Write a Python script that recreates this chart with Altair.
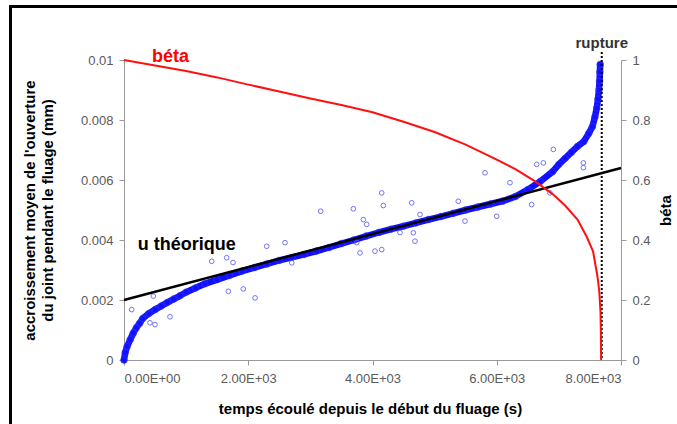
import altair as alt
import pandas as pd

# ---- data ----
# dense band of measurements (centre of the band)
band_t = [0, 20, 50, 100, 150, 200, 250, 300, 400, 500, 600, 700, 800, 900, 1000,
          1150, 1300, 1500, 1700, 1900, 2100, 2300, 2500, 2700, 2900, 3100, 3300,
          3500, 3700, 3900, 4100, 4300, 4500, 4700, 4900, 5100, 5300, 5500, 5700,
          5900, 6100, 6300, 6500, 6700, 6900, 7000, 7100, 7200, 7300, 7400, 7480,
          7540, 7580, 7610, 7630, 7645, 7655, 7660, 7665]
band_u = [0.0, 0.00025, 0.00045, 0.00068, 0.0009, 0.00108, 0.00122, 0.00138, 0.00155,
          0.00168, 0.0018, 0.00192, 0.00203, 0.00214, 0.00226, 0.0024, 0.00254,
          0.00268, 0.00282, 0.00296, 0.00308, 0.0032, 0.00332, 0.00342, 0.00352,
          0.00363, 0.00375, 0.00388, 0.004, 0.00413, 0.00425, 0.00436, 0.00446,
          0.00457, 0.00468, 0.00478, 0.00489, 0.005, 0.0051, 0.0052, 0.0053, 0.00545,
          0.00568, 0.00595, 0.00628, 0.00652, 0.00672, 0.00692, 0.00712, 0.00728,
          0.00755, 0.00778, 0.0081, 0.0084, 0.0087, 0.009, 0.0093, 0.0096, 0.00985]

# scattered measurements away from the band
out_t = [124, 418, 499, 472, 740, 1412, 1653, 1755, 1679, 1920, 2109, 2297, 2592, 2700,
         3166, 3691, 3852, 3907, 3799, 4040, 4148, 3746, 4148, 4174, 4631, 4684, 4657,
         4765, 4443, 5381, 5489, 5999, 6562, 5811, 6213, 6643, 6750, 6911, 7394, 7394,
         6857]
out_u = [0.00168, 0.00124, 0.00118, 0.00213, 0.00144, 0.00329, 0.00341, 0.00325,
         0.00229, 0.00237, 0.00207, 0.00379, 0.00391, 0.00324, 0.00496, 0.00504,
         0.00468, 0.00452, 0.00357, 0.00363, 0.00368, 0.00391, 0.00557, 0.00515,
         0.00524, 0.00396, 0.00424, 0.00485, 0.00425, 0.00529, 0.00463, 0.00479,
         0.00518, 0.00624, 0.00591, 0.00652, 0.00657, 0.00702, 0.00657, 0.00641,
         0.00557]

# theoretical opening
theo_t = [0, 8000]
theo_u = [0.002, 0.0064]

# beta (right axis)
beta_t = [0, 500, 1000, 1500, 2000, 2500, 3000, 3500, 4000, 4500, 5000, 5500, 6000,
          6300, 6600, 6900, 7100, 7300, 7450, 7550, 7620, 7650, 7670, 7676, 7680]
beta_v = [1.0, 0.982, 0.963, 0.942, 0.918, 0.895, 0.872, 0.850, 0.826, 0.794, 0.760,
          0.718, 0.668, 0.636, 0.598, 0.553, 0.515, 0.468, 0.41, 0.362, 0.28, 0.23,
          0.16, 0.09, 0.0]

rupture_t = [7690]

x_ticks = [0, 2000, 4000, 6000, 8000]
y_ticks = [0, 0.002, 0.004, 0.006, 0.008, 0.01]
b_ticks = [0, 0.2, 0.4, 0.6, 0.8, 1]

ann_text = ["béta", "u théorique"]
ann_t = [750, 1010]
ann_u = [0.0101, 0.00382]
ann_col = ["#ff0000", "#000000"]

# ---- chart ----
W, H = 497, 300
xs = alt.Scale(domain=[0, 8000], nice=False)
ys = alt.Scale(domain=[0, 0.01], nice=False)
bs = alt.Scale(domain=[0, 1], nice=False)

band_df = pd.DataFrame({"t": band_t, "u": band_u, "i": range(len(band_t))})
out_df = pd.DataFrame({"t": out_t, "u": out_u})
theo_df = pd.DataFrame({"t": theo_t, "u": theo_u})
beta_df = pd.DataFrame({"t": beta_t, "u": beta_v, "i": range(len(beta_t))})
rup_df = pd.DataFrame({"t": rupture_t, "label": ["rupture"]})
ann_df = pd.DataFrame({"t": ann_t, "u": ann_u, "txt": ann_text, "c": ann_col})
one_df = pd.DataFrame({"k": [0]})

x_axis = alt.Axis(values=x_ticks, title="temps écoulé depuis le début du fluage (s)",
                  labelExpr="datum.value == 0 ? '0.00E+00' : format(datum.value/1000, '.2f') + 'E+03'",
                  labelPadding=7, titleX=246, titleY=48, titleBaseline="middle")
y_axis = alt.Axis(values=y_ticks, format="~f",
                  title=["accroissement moyen de l'ouverture", "du joint pendant le fluage (mm)"],
                  titleAngle=-90, titleX=-95, titleY=150, titleBaseline="middle",
                  titleAlign="center", titleLineHeight=18, labelPadding=6)
b_axis = alt.Axis(values=b_ticks, format="~f", orient="right", title="béta",
                  titleAngle=-90, titleX=44, titleY=150, titleBaseline="middle",
                  titleAlign="center", labelPadding=6)

X = alt.X("t:Q", scale=xs, axis=x_axis)
YL = alt.Y("u:Q", scale=ys, axis=y_axis)
YR = alt.Y("u:Q", scale=bs, axis=b_axis)

band_line = alt.Chart(band_df).mark_line(color="#1010ff", strokeWidth=6.5, strokeCap="round",
                                         strokeJoin="round").encode(x=X, y=YL, order="i:O")
band_pts = alt.Chart(band_df).mark_point(shape="circle", filled=False, size=40,
                                         strokeWidth=1.2, color="#2a2aff").encode(x=X, y=YL)
out_pts = alt.Chart(out_df).mark_point(shape="circle", filled=False, size=22,
                                       strokeWidth=1, color="#5c5cf0", opacity=0.85).encode(x=X, y=YL)
theo = alt.Chart(theo_df).mark_line(color="black", strokeWidth=2.5).encode(x=X, y=YL)
rup = alt.Chart(rup_df).mark_rule(color="black", strokeDash=[2, 2], strokeWidth=2).encode(
    x=X, y=alt.value(-8), y2=alt.value(H))
rup_txt = alt.Chart(rup_df).mark_text(font="Liberation Sans", fontSize=15, fontWeight="bold",
                                      color="#333333", baseline="alphabetic").encode(
    x=X, y=alt.value(-12), text="label:N")
ann = alt.Chart(ann_df).mark_text(font="Liberation Sans", fontSize=18, fontWeight="bold",
                                  baseline="middle").encode(
    x=X, y=YL, text="txt:N", color=alt.Color("c:N", scale=None))

border_left = alt.Chart(one_df).mark_rule(color="black", strokeWidth=3).encode(
    x=alt.value(-113.5), y=alt.value(-54), y2=alt.value(370))
border_top = alt.Chart(one_df).mark_rule(color="black", strokeWidth=3).encode(
    x=alt.value(-115), x2=alt.value(560), y=alt.value(-53.5))

left = alt.layer(band_line, band_pts, out_pts, theo, rup, rup_txt, ann,
                 border_left, border_top)

beta_line = alt.Chart(beta_df).mark_line(color="#ff1010", strokeWidth=2).encode(
    x=X, y=YR, order="i:O")

chart = alt.layer(left, beta_line).resolve_scale(y="independent").properties(
    width=W, height=H,
    autosize=alt.AutoSizeParams(type="none"),
    padding={"left": 124, "top": 60, "right": 56, "bottom": 64},
    background="white",
).configure_view(stroke="transparent").configure_axis(
    grid=False, domainColor="#999999", tickColor="#999999", tickSize=5,
    labelColor="#5a5a5a", labelFont="Liberation Sans", labelFontSize=13,
    titleFont="Liberation Sans", titleFontSize=15, titleFontWeight="bold",
    titleColor="black")

chart.save("out.html", embed_options={"renderer": "svg", "actions": False})
